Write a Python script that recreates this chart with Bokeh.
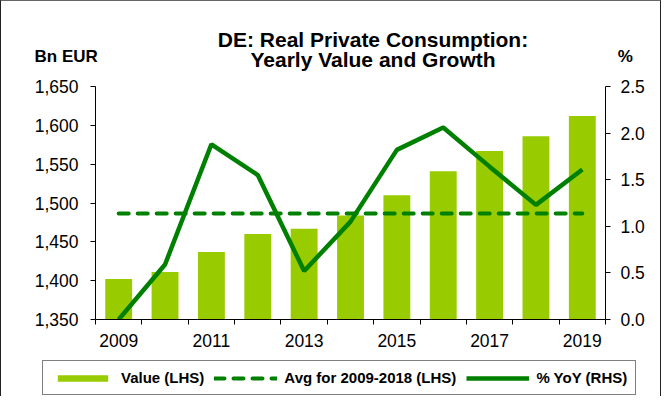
from bokeh.plotting import figure
from bokeh.models import (Range1d, LinearAxis, FixedTicker, NumeralTickFormatter,
                          Legend, LegendItem, ColumnDataSource, Label)
from bokeh.layouts import column
from bokeh.embed import file_html
from bokeh.resources import INLINE

# ---- data ----
years = [2009, 2010, 2011, 2012, 2013, 2014, 2015, 2016, 2017, 2018, 2019]
value_bn_eur = [1402, 1411, 1437, 1460, 1467, 1484, 1510, 1541, 1567, 1586, 1612]
yoy_pct = [0.0, 0.59, 1.88, 1.55, 0.52, 1.05, 1.82, 2.06, 1.64, 1.23, 1.61]
avg_2009_2018 = 1486.5
left_ticks = [1350, 1400, 1450, 1500, 1550, 1600, 1650]
right_ticks = [0.0, 0.5, 1.0, 1.5, 2.0, 2.5]
label_years = [2009, 2011, 2013, 2015, 2017, 2019]

FONT = "Liberation Sans"
BAR = "#99CC00"
GREEN = "#008000"
W = 659

def no_align(f):
    if "frame_align" in f.properties():
        f.frame_align = False

def bare(height):
    f = figure(width=W, height=height, output_backend="svg", toolbar_location=None,
               x_range=Range1d(0, W), y_range=Range1d(height, 0),
               min_border=0, min_border_left=0, min_border_right=0,
               min_border_top=0, min_border_bottom=0,
               x_axis_location=None, y_axis_location=None)
    f.outline_line_color = None
    f.xgrid.visible = False
    f.ygrid.visible = False
    f.background_fill_color = "white"
    f.border_fill_color = "white"
    no_align(f)
    return f

# ---------------- header: title and unit labels ----------------
head = bare(73)
def htext(text, x, y, size, align):
    head.add_layout(Label(text=text, x=x, y=y, text_font=FONT, text_font_style="bold",
                          text_font_size=size, text_color="black", text_align=align,
                          text_baseline="alphabetic"))
htext("DE: Real Private Consumption:", 371.5, 38, "21px", "center")
htext("Yearly Value and Growth", 371.5, 58, "21px", "center")
htext("Bn EUR", 33, 54.5, "17px", "left")
htext("%", 623.7, 55, "17px", "center")

# ---------------- main chart ----------------
src = ColumnDataSource(dict(year=years, value=value_bn_eur, yoy=yoy_pct))
avg_src = ColumnDataSource(dict(year=[years[0], years[-1]],
                                avg=[avg_2009_2018, avg_2009_2018]))

p = figure(width=W, height=285, output_backend="svg", toolbar_location=None,
           x_range=Range1d(years[0] - 0.5, years[-1] + 0.5),
           y_range=Range1d(left_ticks[0], left_ticks[-1]),
           min_border_left=94, min_border_right=55,
           min_border_top=12, min_border_bottom=40)
p.extra_y_ranges = {"yoy": Range1d(right_ticks[0], right_ticks[-1])}
p.outline_line_color = None
p.xgrid.visible = False
p.ygrid.visible = False
p.background_fill_color = "white"
p.border_fill_color = "white"
no_align(p)

bar_style = dict(fill_color=BAR, line_color=None)
avg_style = dict(line_color=GREEN, line_width=4, line_dash="10 9", line_cap="round")
yoy_style = dict(line_color=GREEN, line_width=4.5)

p.vbar(x="year", top="value", bottom=left_ticks[0], width=0.58, source=src, **bar_style)
p.line(x="year", y="avg", source=avg_src, **avg_style)
p.line(x="year", y="yoy", source=src, y_range_name="yoy", **yoy_style)

# bottom axis: labels every other year, tick marks between categories
boundaries = [y - 0.5 for y in years] + [years[-1] + 0.5]
xa = p.xaxis[0]
xa.ticker = FixedTicker(ticks=label_years, minor_ticks=boundaries)
xa.major_tick_in = 0
xa.major_tick_out = 0
xa.minor_tick_in = 0
xa.minor_tick_out = 5
xa.minor_tick_line_color = "black"
xa.axis_line_color = "black"
xa.major_label_standoff = 9
xa.major_label_text_font = FONT
xa.major_label_text_font_size = "17.5px"
xa.major_label_text_color = "black"

ya = p.yaxis[0]
ya.ticker = FixedTicker(ticks=left_ticks)
ya.formatter = NumeralTickFormatter(format="0,0")

ra = LinearAxis(y_range_name="yoy", ticker=FixedTicker(ticks=right_ticks),
                formatter=NumeralTickFormatter(format="0.0"))
p.add_layout(ra, "right")

for ax, so in ((ya, 12), (ra, 10)):
    ax.major_tick_in = 0
    ax.major_tick_out = 5
    ax.minor_tick_in = 0
    ax.minor_tick_out = 0
    ax.major_tick_line_color = "black"
    ax.axis_line_color = "black"
    ax.major_label_standoff = so
    ax.major_label_text_font = FONT
    ax.major_label_text_font_size = "17.5px"
    ax.major_label_text_color = "black"

# ---------------- legend strip (same series, outside this strip's view) ----------------
leg = bare(37)
r_bar = leg.vbar(x="year", top="value", width=0.58, source=src, **bar_style)
r_avg = leg.line(x="year", y="avg", source=avg_src, **avg_style)
r_yoy = leg.line(x="year", y="yoy", source=src, **yoy_style)
legend = Legend(items=[LegendItem(label="Value (LHS)", renderers=[r_bar]),
                       LegendItem(label="Avg for 2009-2018 (LHS)", renderers=[r_avg]),
                       LegendItem(label="% YoY (RHS)", renderers=[r_yoy])],
                orientation="horizontal", location=(41, 1),
                glyph_width=63, glyph_height=8, label_standoff=7, spacing=10,
                padding=8, label_height=16, margin=0,
                label_text_font=FONT, label_text_font_style="bold",
                label_text_font_size="15px", label_text_color="black",
                border_line_color="black", border_line_width=1,
                background_fill_color="white", background_fill_alpha=1)
leg.add_layout(legend, "center")

box = column(head, p, leg, spacing=0,
             styles={"border-top": "1px solid #666", "border-left": "1px solid #222",
                     "border-right": "1px solid #222"})

open("out.html", "w").write(file_html(box, INLINE))
